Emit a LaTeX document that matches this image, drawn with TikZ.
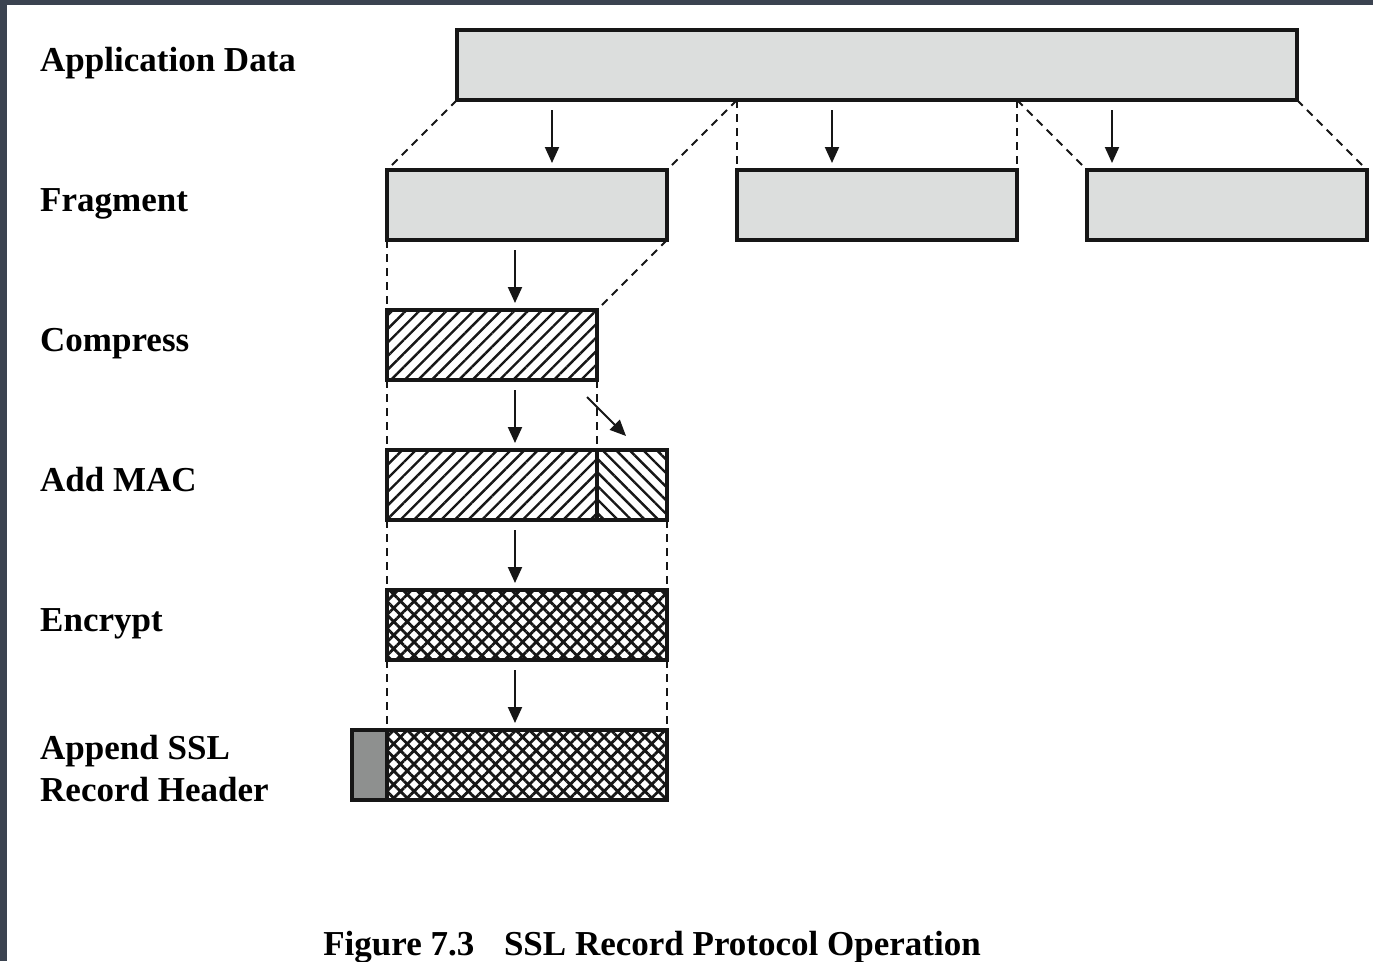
\documentclass[tikz,border=0pt]{standalone}
\usepackage{fontspec}
\setmainfont{Liberation Serif}
\usepackage{tikz}
\usetikzlibrary{arrows.meta, patterns.meta}
\definecolor{boxgray}{HTML}{DCDEDD}
\definecolor{hdrgray}{HTML}{8E908F}
\definecolor{inkblack}{HTML}{161616}
\definecolor{framedark}{HTML}{3B4350}
\tikzstyle{arrow} = [-{Triangle[length=16pt, width=14pt]}, line width=2pt, color=inkblack]

\begin{document}
\begin{tikzpicture}[x=1pt, y=-1pt,
    blk/.style={rectangle, draw=inkblack, line width=3.6pt, outer sep=0pt, inner sep=0pt,
      minimum height=70pt, anchor=north west},
    grayblk/.style={blk, fill=boxgray},
    fwdhatch/.style={blk, pattern={Lines[angle=45, distance=9.6pt, line width=2.4pt]}, pattern color=inkblack},
    backhatch/.style={blk, pattern={Lines[angle=-45, distance=9.6pt, line width=2.4pt]}, pattern color=inkblack},
    crosshatch/.style={blk, pattern={Hatch[angle=45, distance=9.6pt, line width=2.8pt]}, pattern color=inkblack},
    guide/.style={dash pattern=on 8pt off 6pt, line width=1.8pt, color=inkblack},
    lbl/.style={anchor=base west, inner sep=0pt, font=\fontsize{35}{41}\selectfont\bfseries}
  ]
    \useasboundingbox (0,0) rectangle (1373,961);
    \fill[white] (0,0) rectangle (1373,961);
    % dark frame of the screenshot
    \fill[framedark] (0,0) rectangle (1373,5);
    \fill[framedark] (0,0) rectangle (7,961);

    % row labels
    \node[lbl] (lapp) at (40,71) {Application Data};
    \node[lbl] (lfrag) at (40,211) {Fragment};
    \node[lbl] (lcmp) at (40,351) {Compress};
    \node[lbl] (lmac) at (40,491) {Add MAC};
    \node[lbl] (lenc) at (40,631) {Encrypt};
    \node[lbl] (lhdr) at (40,759) {Append SSL};
    \node[lbl] (lrec) at (40,801) {Record Header};

    % blocks
    \node[grayblk, minimum width=840pt] (app) at (457,30) {};
    \node[grayblk, minimum width=280pt] (f1) at (387,170) {};
    \node[grayblk, minimum width=280pt] (f2) at (737,170) {};
    \node[grayblk, minimum width=280pt] (f3) at (1087,170) {};
    \node[fwdhatch, minimum width=210pt] (cmp) at (387,310) {};
    \node[fwdhatch, minimum width=210pt] (mac1) at (387,450) {};
    \node[backhatch, minimum width=70pt] (mac2) at (597,450) {};
    \node[crosshatch, minimum width=280pt] (enc) at (387,590) {};
    \node[crosshatch, minimum width=280pt] (rec) at (387,730) {};
    \node[blk, fill=hdrgray, minimum width=35pt] (hdr) at (352,730) {};

    % dashed guides
    \draw[guide] (app.south west) -- (f1.north west);
    \draw[guide] (f2.north west |- app.south) -- (f1.north east);
    \draw[guide] (f2.north west |- app.south) -- (f2.north west);
    \draw[guide] (f2.north east |- app.south) -- (f2.north east);
    \draw[guide] (f2.north east |- app.south) -- (f3.north west);
    \draw[guide] (app.south east) -- (f3.north east);
    \draw[guide] (f1.south west) -- (cmp.north west);
    \draw[guide] (f1.south east) -- (cmp.north east);
    \draw[guide] (cmp.south west) -- (mac1.north west);
    \draw[guide] (cmp.south east) -- (mac1.north east);
    \draw[guide] (mac1.south west) -- (enc.north west);
    \draw[guide] (mac2.south east) -- (enc.north east);
    \draw[guide] (enc.south west) -- (rec.north west);
    \draw[guide] (enc.south east) -- (rec.north east);

    % arrows
    \draw[arrow, shorten <=10pt, shorten >=7pt] ([xshift=95pt]app.south west) -- ([xshift=95pt]app.south west |- f1.north);
    \draw[arrow, shorten <=10pt, shorten >=7pt] ([xshift=375pt]app.south west) -- ([xshift=375pt]app.south west |- f2.north);
    \draw[arrow, shorten <=10pt, shorten >=7pt] ([xshift=655pt]app.south west) -- ([xshift=655pt]app.south west |- f3.north);
    \draw[arrow, shorten <=10pt, shorten >=7pt] ([xshift=128pt]f1.south west) -- ([xshift=128pt]f1.south west |- cmp.north);
    \draw[arrow, shorten <=10pt, shorten >=7pt] ([xshift=128pt]cmp.south west) -- ([xshift=128pt]cmp.south west |- mac1.north);
    \draw[arrow] ([shift={(-10,17)}]cmp.south east) -- ([shift={(29,-14)}]mac2.north west);
    \draw[arrow, shorten <=10pt, shorten >=7pt] ([xshift=128pt]mac1.south west) -- ([xshift=128pt]mac1.south west |- enc.north);
    \draw[arrow, shorten <=10pt, shorten >=7pt] ([xshift=128pt]enc.south west) -- ([xshift=128pt]enc.south west |- rec.north);

    % caption
    \node[anchor=base, inner sep=0pt, font=\fontsize{35}{41}\selectfont\bfseries] (cap) at (652,955)
      {Figure 7.3\hspace{0.85em}SSL Record Protocol Operation};
  \end{tikzpicture}
\end{document}
